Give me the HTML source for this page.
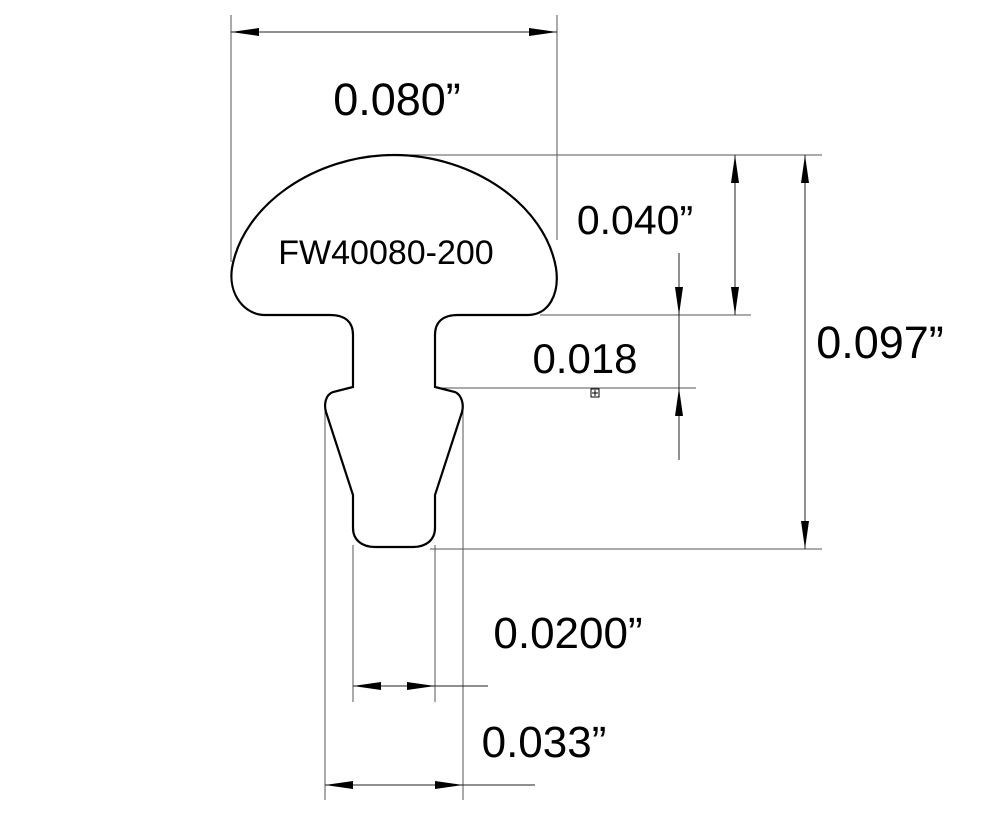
<!DOCTYPE html>
<html><head><style>html,body{margin:0;padding:0;background:#fff;width:1006px;height:821px;overflow:hidden}</style></head>
<body>
<svg width="1006" height="821" viewBox="0 0 1006 821" xmlns="http://www.w3.org/2000/svg" font-family="Liberation Sans, sans-serif">
<defs>
<marker id="a" viewBox="0 0 28 8" refX="28" refY="4" markerWidth="28" markerHeight="8" markerUnits="userSpaceOnUse" orient="auto"><path d="M0,0L28,4L0,8z" fill="#000"/></marker>
</defs>
<g stroke="#555" stroke-width="1" fill="none">
<line x1="231" y1="15" x2="231" y2="262"/>
<line x1="557" y1="15" x2="557" y2="240"/>
<line x1="395" y1="155" x2="822" y2="155"/>
<line x1="540" y1="315" x2="751" y2="315"/>
<line x1="440" y1="388" x2="696" y2="388"/>
<line x1="430" y1="549" x2="822" y2="549"/>
<line x1="353" y1="545" x2="353" y2="702"/>
<line x1="435" y1="545" x2="435" y2="702"/>
<line x1="325" y1="410" x2="325" y2="800"/>
<line x1="463" y1="410" x2="463" y2="800"/>
</g>
<g stroke="#222" stroke-width="1" fill="none">
<line x1="394" y1="32" x2="231" y2="32" marker-end="url(#a)"/>
<line x1="394" y1="32" x2="557" y2="32" marker-end="url(#a)"/>
<line x1="735" y1="235" x2="735" y2="155" marker-end="url(#a)"/>
<line x1="735" y1="235" x2="735" y2="315" marker-end="url(#a)"/>
<line x1="805" y1="350" x2="805" y2="155" marker-end="url(#a)"/>
<line x1="805" y1="350" x2="805" y2="549" marker-end="url(#a)"/>
<line x1="679" y1="253" x2="679" y2="315" marker-end="url(#a)"/>
<line x1="679" y1="460" x2="679" y2="388" marker-end="url(#a)"/>
<line x1="679" y1="315" x2="679" y2="388"/>
<line x1="394" y1="686" x2="353" y2="686" marker-end="url(#a)"/>
<line x1="394" y1="686" x2="435" y2="686" marker-end="url(#a)"/>
<line x1="435" y1="686" x2="488" y2="686"/>
<line x1="394" y1="785" x2="325" y2="785" marker-end="url(#a)"/>
<line x1="394" y1="785" x2="463" y2="785" marker-end="url(#a)"/>
<line x1="463" y1="785" x2="535" y2="785"/>
</g>
<rect x="591" y="389" width="8" height="8" fill="none" stroke="#000" stroke-width="1"/>
<path d="M595,390v6M592,393h6" stroke="#000" stroke-width="1"/>
<path d="M394,155 C315,155 243,205 232,268 C228,295 245,315 265,315 L330,315 C345,315 353,322 353,335 L353,387 L333,392 C325,395 324,405 326,412 L353,495 L353,528 C353,540 362,547 375,547 L413,547 C426,547 435,540 435,528 L435,495 L462,412 C464,405 462,395 455,392 L435,387 L435,335 C435,322 443,315 458,315 L528,315 C548,315 560,295 556,268 C545,205 473,155 394,155 Z" fill="none" stroke="#000" stroke-width="2.2"/>
<g fill="#000">
<text x="386" y="264" font-size="34" text-anchor="middle">FW40080-200</text>
<text x="397" y="115" font-size="45" text-anchor="middle">0.080”</text>
<text x="635" y="234" font-size="41" text-anchor="middle">0.040”</text>
<text x="880" y="358" font-size="45" text-anchor="middle">0.097”</text>
<text x="585" y="373" font-size="42" text-anchor="middle">0.018</text>
<text x="568" y="648" font-size="44" text-anchor="middle">0.0200”</text>
<text x="544" y="757" font-size="44" text-anchor="middle">0.033”</text>
</g>
</svg>
</body></html>
